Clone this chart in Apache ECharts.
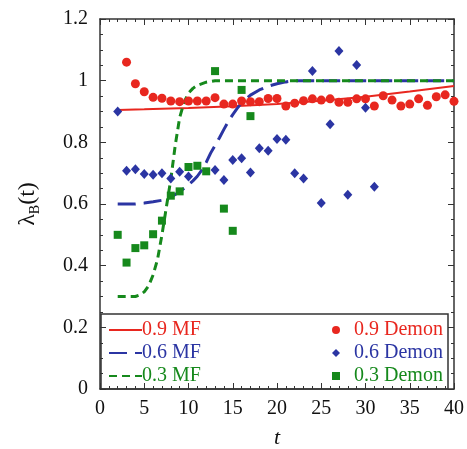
<!DOCTYPE html>
<html><head><meta charset="utf-8">
<script src="https://cdn.jsdelivr.net/npm/echarts@6/dist/echarts.min.js"></script>
<style>html,body{margin:0;padding:0;background:#fff}#c{width:467px;height:449px}</style>
</head><body><div id="c"></div>
<script>
// ---- data ----
const redMF_t   = [2, 5, 10, 15, 20, 25, 30, 35, 40];
const redMF_v   = [0.905, 0.907, 0.911, 0.917, 0.924, 0.935, 0.948, 0.965, 0.983];
const blueMF_t  = [2, 3, 4, 5, 6, 7, 8, 9, 10, 10.5, 11, 11.5, 12, 12.5, 13, 13.5, 14, 14.5, 15, 15.5, 16, 17, 18, 19, 20, 21, 22, 40];
const blueMF_v  = [0.60, 0.60, 0.60, 0.603, 0.607, 0.612, 0.622, 0.64, 0.662, 0.675, 0.69, 0.71, 0.735, 0.765, 0.79, 0.815, 0.842, 0.868, 0.89, 0.91, 0.928, 0.953, 0.97, 0.982, 0.99, 0.996, 1.0, 1.0];
const greenMF_t = [2, 3, 4, 4.5, 5, 5.5, 6, 6.5, 7, 7.5, 8, 8.5, 9, 9.5, 10, 10.5, 11, 12, 13, 40];
const greenMF_v = [0.30, 0.30, 0.30, 0.305, 0.315, 0.335, 0.37, 0.42, 0.50, 0.59, 0.68, 0.79, 0.88, 0.93, 0.96, 0.975, 0.985, 0.995, 1.0, 1.0];

const redDemon_t = [3,4,5,6,7,8,9,10,11,12,13,14,15,16,17,18,19,20,21,22,23,24,25,26,27,28,29,30,31,32,33,34,35,36,37,38,39,40];
const redDemon_v = [1.06,0.99,0.964,0.946,0.943,0.934,0.932,0.934,0.934,0.934,0.945,0.924,0.924,0.934,0.932,0.932,0.942,0.942,0.918,0.927,0.935,0.941,0.937,0.941,0.930,0.930,0.941,0.941,0.918,0.951,0.937,0.918,0.924,0.941,0.920,0.948,0.954,0.933];
const blueDemon_t = [2,3,4,5,6,7,8,9,10,13,14,15,16,17,18,19,20,21,22,23,24,25,26,27,28,29,30,31];
const blueDemon_v = [0.90,0.708,0.713,0.697,0.695,0.70,0.683,0.705,0.689,0.71,0.678,0.743,0.748,0.702,0.781,0.773,0.811,0.808,0.70,0.683,1.031,0.603,0.859,1.096,0.63,1.051,0.912,0.656];
const greenDemon_t = [2,3,4,5,6,7,8,9,10,11,12,13,14,15,16,17];
const greenDemon_v = [0.50,0.41,0.457,0.466,0.502,0.546,0.627,0.641,0.72,0.724,0.706,1.031,0.585,0.513,0.97,0.885];

const xTicks = [0,5,10,15,20,25,30,35,40];
const yTicks = [0,0.2,0.4,0.6,0.8,1,1.2];

const RED = '#e8271f', BLUE = '#2b35a3', GREEN = '#16891c';
const FONT = 'Liberation Serif';
const zip = (a, b) => a.map((v, i) => [v, b[i]]);

const chart = echarts.init(document.getElementById('c'), null, {renderer: 'canvas'});
const axisCommon = {
  axisLine: {show: true, onZero: false, lineStyle: {color: '#333', width: 1.5}},
  axisTick: {show: true, inside: true, length: 6, lineStyle: {color: '#333', width: 1}},
  splitLine: {show: false}
};
const xMinor = {minorTick: {show: true, splitNumber: 5, length: 3, lineStyle: {color: '#333'}}};
const yMinor = {minorTick: {show: true, splitNumber: 4, length: 3, lineStyle: {color: '#333'}}};
chart.setOption({
  animation: false,
  backgroundColor: '#fff',
  grid: {left: 100, right: 13, top: 19, bottom: 60, containLabel: false, outerBoundsMode: 'none'},
  xAxis: [
    Object.assign({type: 'value', min: xTicks[0], max: xTicks[xTicks.length-1], interval: 5, position: 'bottom',
      axisLabel: {fontFamily: FONT, fontSize: 20, color: '#111', margin: 10},
      name: 't', nameLocation: 'middle', nameGap: 38,
      nameTextStyle: {fontFamily: FONT, fontStyle: 'italic', fontSize: 22, color: '#111'}}, axisCommon, xMinor),
    Object.assign({type: 'value', min: xTicks[0], max: xTicks[xTicks.length-1], interval: 5, position: 'top', axisLabel: {show: false}}, axisCommon, xMinor)
  ],
  yAxis: [
    Object.assign({type: 'value', min: yTicks[0], max: yTicks[yTicks.length-1], interval: 0.2, position: 'left',
      axisLabel: {fontFamily: FONT, fontSize: 20, color: '#111', margin: 12},
      name: '{l|λ}{s|B}{l|(t)}', nameLocation: 'middle', nameGap: 58, nameRotate: 90,
      nameTextStyle: {fontFamily: FONT, color: '#111', rich: {
        l: {fontFamily: FONT, fontSize: 24, color: '#111'},
        s: {fontFamily: FONT, fontSize: 14, color: '#111', padding: [14, 0, 0, 0]}
      }}}, axisCommon, yMinor),
    Object.assign({type: 'value', min: yTicks[0], max: yTicks[yTicks.length-1], interval: 0.2, position: 'right', axisLabel: {show: false}}, axisCommon, yMinor)
  ],
  legend: [
    {left: 103, top: 315, orient: 'vertical', itemWidth: 33, itemHeight: 12, itemGap: 3,
     itemStyle: {opacity: 0},
     textStyle: {fontFamily: FONT, fontSize: 20, lineHeight: 20, padding: [0,0,0,-5]},
     data: [{name: '0.9 MF', textStyle: {color: RED}}, {name: '0.6 MF', textStyle: {color: BLUE}}, {name: '0.3 MF', textStyle: {color: GREEN}}]},
    {left: 327, top: 315, orient: 'vertical', itemWidth: 8, itemHeight: 8, itemGap: 3,
     textStyle: {fontFamily: FONT, fontSize: 20, lineHeight: 20, padding: [0,0,0,9]},
     data: [{name: '0.9 Demon', textStyle: {color: RED}}, {name: '0.6 Demon', textStyle: {color: BLUE}}, {name: '0.3 Demon', textStyle: {color: GREEN}}]}
  ],
  graphic: [{type: 'rect', z: 0, shape: {x: 101, y: 314, width: 347, height: 75}, style: {fill: '#fff', stroke: '#333', lineWidth: 1.5}}],
  series: [
    {name: '0.9 MF', type: 'line', data: zip(redMF_t, redMF_v), symbol: 'none', z: 3, color: RED,
     lineStyle: {color: RED, width: 2}},
    {name: '0.6 MF', type: 'line', data: zip(blueMF_t, blueMF_v), symbol: 'none', z: 3, color: BLUE,
     lineStyle: {color: BLUE, width: 3, type: [18, 8]}},
    {name: '0.3 MF', type: 'line', data: zip(greenMF_t, greenMF_v), symbol: 'none', z: 3, color: GREEN,
     lineStyle: {color: GREEN, width: 3, type: [8, 5]}},
    {name: '0.9 Demon', type: 'scatter', data: zip(redDemon_t, redDemon_v), symbol: 'circle', symbolSize: 9, z: 4,
     itemStyle: {color: RED, opacity: 1}},
    {name: '0.6 Demon', type: 'scatter', data: zip(blueDemon_t, blueDemon_v), symbol: 'diamond', symbolSize: [9, 10], z: 4,
     itemStyle: {color: BLUE, opacity: 1}},
    {name: '0.3 Demon', type: 'scatter', data: zip(greenDemon_t, greenDemon_v), symbol: 'rect', symbolSize: 8, z: 4,
     itemStyle: {color: GREEN, opacity: 1}}
  ]
});
</script></body></html>
